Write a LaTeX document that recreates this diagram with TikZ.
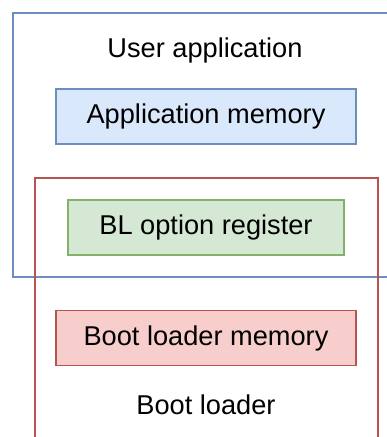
\documentclass[tikz,border=0pt]{standalone}
\usepackage{fontspec}
\setmainfont{Liberation Sans}
\begin{document}
\begin{tikzpicture}[x=1pt,y=-1pt,
  every node/.style={font=\fontsize{27.2}{31}\selectfont, inner sep=0pt},
  region/.style={draw, line width=1.7pt, anchor=north west},
  membox/.style={draw, line width=1.7pt, minimum height=55pt},
  caption/.style={text=black}]
\definecolor{bluefill}{HTML}{DAE8FC}\definecolor{bluedraw}{HTML}{6C8EBF}
\definecolor{greenfill}{HTML}{D5E8D4}\definecolor{greendraw}{HTML}{82B366}
\definecolor{redfill}{HTML}{F8CECC}\definecolor{reddraw}{HTML}{B85450}
\useasboundingbox (0,0) rectangle (387,437);
\clip (0,0) rectangle (387,437);
% outer regions
\node[region, draw=bluedraw, minimum width=385pt, minimum height=264pt] (userregion) at (12,12) {};
\node[region, draw=reddraw, minimum width=343pt, minimum height=275pt] (blregion) at (34,177) {};
% region captions
\node[caption] (userlabel) at (205,50) {User application};
\node[caption] (bllabel) at (206,405) {Boot loader};
% memory blocks
\node[membox, fill=bluefill, draw=bluedraw, minimum width=300pt] (appmem) at (206,116.5) {Application memory};
\node[membox, fill=greenfill, draw=greendraw, minimum width=276pt] (optreg) at (206,227.5) {BL option register};
\node[membox, fill=redfill, draw=reddraw, minimum width=300pt] (blmem) at (206,338) {Boot loader memory};
\end{tikzpicture}
\end{document}
